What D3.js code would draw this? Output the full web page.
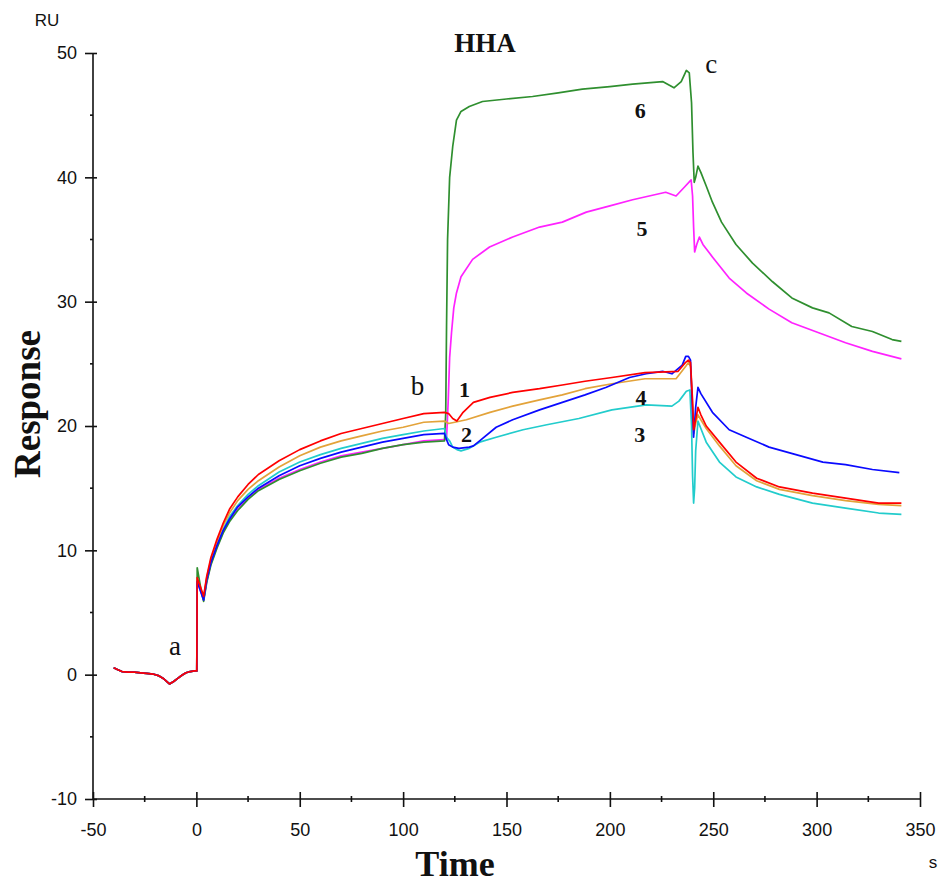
<!DOCTYPE html>
<html>
<head>
<meta charset="utf-8">
<script src="https://cdn.jsdelivr.net/npm/d3@7"></script>
<style>
  html, body { margin: 0; padding: 0; background: #fff; }
  svg { display: block; }
</style>
</head>
<body>
<svg id="chart" width="939" height="885"></svg>
<script>
// ---------- data ----------
const xTicksMajor = [-50, 0, 50, 100, 150, 200, 250, 300, 350];
const xTicksMinor = [-25, 25, 75, 125, 175, 225, 275, 325];
const yTicksMajor = [-10, 0, 10, 20, 30, 40, 50];
const yTicksMinor = [-5, 5, 15, 25, 35, 45];

// shared pre-injection baseline (time s, response RU)
const baseline = [[-40,0.55],[-38,0.4],[-36,0.25],[-33,0.2],[-30,0.2],[-27,0.15],[-24,0.1],[-21,0.05],[-18,-0.1],[-16,-0.3],[-14,-0.6],[-13,-0.75],[-11,-0.55],[-9,-0.3],[-7,-0.05],[-5,0.15],[-3,0.25],[-1,0.3],[0.2,0.3]];

const curve1Red = [[0.4,7.8],[2.5,6.8],[3.5,6.3],[5,7.9],[7,9.4],[10,10.9],[13,12.2],[16,13.3],[20,14.3],[25,15.3],[30,16.1],[40,17.2],[50,18.1],[60,18.8],[70,19.4],[80,19.8],[90,20.2],[100,20.6],[110,21.0],[120,21.1],[122,21.0],[124,20.6],[126,20.4],[129,21.1],[134,21.9],[142,22.3],[153,22.7],[166,23.0],[177,23.3],[188,23.6],[201,23.9],[217,24.3],[227,24.35],[233,24.4],[236.5,25.1],[238,25.3],[239,25.1],[240,22],[240.5,19.7],[241.5,20.5],[242.6,21.5],[244,20.9],[246.6,20.0],[253,18.7],[261,17.1],[271,15.8],[282,15.1],[298,14.6],[314,14.2],[330,13.8],[341,13.8]];

const curve2Orange = [[0.4,7.7],[2.5,6.7],[3.5,6.2],[5,7.8],[7,9.2],[10,10.7],[13,12.0],[16,13.0],[20,14.0],[25,14.9],[30,15.6],[40,16.7],[50,17.6],[60,18.3],[70,18.8],[80,19.2],[90,19.6],[100,19.9],[110,20.3],[120,20.4],[122,20.2],[125,20.3],[130.6,20.5],[142,21.1],[153,21.6],[166,22.1],[177,22.5],[188,23.0],[201,23.4],[217,23.8],[232,23.8],[236.7,24.8],[238,25.1],[239,24.8],[240,21.5],[240.6,19.4],[241.5,20.2],[242.6,20.9],[244,20.5],[246.6,19.8],[253,18.4],[261,16.8],[271,15.6],[282,14.9],[298,14.4],[314,14.0],[330,13.7],[341,13.6]];

const curve3Cyan = [[0.4,7.6],[2.5,6.6],[3.5,6.1],[5,7.7],[7,9.1],[10,10.5],[13,11.7],[16,12.7],[20,13.6],[25,14.5],[30,15.2],[40,16.3],[50,17.1],[60,17.7],[70,18.2],[80,18.6],[90,19.0],[100,19.3],[110,19.6],[120,19.8],[121,19.1],[122.5,18.8],[124,18.3],[126,18.1],[128,18.0],[132,18.2],[137,18.7],[145,19.1],[158,19.7],[169.5,20.1],[185,20.6],[201,21.3],[217.6,21.7],[230,21.6],[233.4,22.0],[237,22.8],[238.7,22.9],[239.5,20],[240,16],[240.5,13.8],[241,15],[241.5,18],[242.6,20.4],[244,19.8],[246.6,18.7],[253,17.1],[261,15.9],[271,15.1],[282,14.5],[298,13.8],[314,13.4],[330,13.0],[341,12.9]];

const curve4Blue = [[0.4,7.5],[2.5,6.5],[3.5,6.0],[5,7.6],[7,9.0],[10,10.4],[13,11.6],[16,12.5],[20,13.5],[25,14.3],[30,15.0],[40,16.0],[50,16.8],[60,17.4],[70,17.9],[80,18.3],[90,18.7],[100,19.0],[110,19.3],[120,19.4],[121,18.9],[122,18.5],[124,18.3],[127,18.2],[132,18.3],[134,18.4],[137,18.8],[145,19.9],[153,20.5],[166,21.3],[177,21.9],[188,22.5],[198,23.1],[209.5,23.9],[217.6,24.2],[225.5,24.4],[230,24.2],[235,24.9],[236.7,25.6],[238,25.6],[239,25.3],[240,21],[240.5,19.1],[241.5,21.5],[242.6,23.1],[244,22.6],[249.6,21.1],[257.7,19.7],[266,19.1],[277,18.3],[290,17.7],[303,17.1],[314,16.9],[327,16.5],[340,16.25]];

const curve5Magenta = [[0.4,7.5],[2.5,6.5],[3.5,6.0],[5,7.5],[7,8.9],[10,10.3],[13,11.5],[16,12.4],[20,13.3],[25,14.2],[30,14.9],[40,15.8],[50,16.5],[60,17.1],[70,17.6],[80,17.9],[90,18.2],[100,18.5],[110,18.8],[120,18.9],[121,19.0],[121.8,22],[122.5,25.5],[123.4,27.5],[124.5,29.5],[125.8,30.7],[128,32.0],[133.6,33.4],[141.8,34.4],[153,35.2],[166,36.0],[177,36.4],[188.6,37.2],[200,37.7],[211,38.2],[227,38.8],[232,38.5],[236,39.2],[239.3,39.8],[240,38.5],[240.5,36],[241,34.0],[242,34.6],[243.3,35.2],[245,34.6],[249.6,33.6],[257.7,31.9],[266,30.7],[277,29.4],[288,28.3],[301,27.5],[314,26.7],[327,26.0],[341,25.4]];

const curve6Green = [[0.4,8.6],[2.5,6.6],[3.5,5.9],[5,7.4],[7,8.8],[10,10.2],[13,11.4],[16,12.3],[20,13.2],[25,14.1],[30,14.8],[40,15.7],[50,16.4],[60,17.0],[70,17.5],[80,17.8],[90,18.2],[100,18.5],[110,18.7],[120,18.8],[120.6,21],[121,28],[121.5,35],[122.5,40],[124,42.5],[125.8,44.6],[128,45.3],[132,45.7],[138.4,46.1],[150,46.3],[162.6,46.5],[175,46.8],[186.7,47.1],[200,47.3],[211,47.5],[225.5,47.7],[231,47.2],[234.5,47.7],[237,48.6],[238.4,48.4],[239.5,46],[240.2,42],[240.8,39.6],[241.5,40.0],[242.6,40.9],[244,40.4],[246.6,39.3],[249.6,38.0],[254,36.4],[261,34.6],[269,33.1],[278.7,31.6],[288,30.3],[298,29.5],[306,29.1],[317,28.0],[327,27.6],[336.5,26.95],[341,26.8]];

const seriesNames = ["1", "2", "3", "4", "5", "6"];
const seriesColors = ["#ff0000", "#e3a33a", "#22cccc", "#0a0aff", "#ff22ff", "#2f8f2f"];
const seriesData = [curve1Red, curve2Orange, curve3Cyan, curve4Blue, curve5Magenta, curve6Green];

const curveLabels = ["1", "2", "3", "4", "5", "6"];
const curveLabelPos = [[129.7, 22.3], [130.7, 18.7], [214.5, 18.7], [215, 21.7], [215.5, 35.3], [214.7, 44.8]];
const phaseLabels = ["a", "b", "c"];
const phaseLabelPos = [[-10.4, 1.6], [107, 22.5], [249, 48.4]];

// ---------- drawing ----------
const svg = d3.select("#chart");
const x = d3.scaleLinear().domain([-50, 350]).range([93, 920]);
const y = d3.scaleLinear().domain([-10, 50]).range([799, 53]);

const ink = "#111";
const sans = "'Liberation Sans', Arial, sans-serif";
const serif = "'Liberation Serif', 'Times New Roman', serif";
const plainFmt = d => String(d);

// axis lines
svg.append("line").attr("x1", x(-50)).attr("x2", x(350)).attr("y1", y(-10)).attr("y2", y(-10))
  .attr("stroke", ink).attr("stroke-width", 1.6);
svg.append("line").attr("x1", x(-50)).attr("x2", x(-50)).attr("y1", y(-10)).attr("y2", y(50))
  .attr("stroke", ink).attr("stroke-width", 1.6);

// x axis (major)
const gx = svg.append("g").attr("transform", `translate(0,${y(-10)})`)
  .call(d3.axisBottom(x).tickValues(xTicksMajor).tickSize(8).tickPadding(16).tickFormat(plainFmt));
gx.select(".domain").remove();
gx.selectAll(".tick line").attr("y1", -7).attr("stroke", ink).attr("stroke-width", 1.6);
gx.selectAll(".tick text").attr("font-family", sans).attr("font-size", 18).attr("fill", ink);
// x axis (minor)
svg.append("g").selectAll("line").data(xTicksMinor).join("line")
  .attr("x1", d => x(d)).attr("x2", d => x(d)).attr("y1", y(-10) - 3).attr("y2", y(-10) + 3)
  .attr("stroke", ink).attr("stroke-width", 1.6);

// y axis (major)
const gy = svg.append("g").attr("transform", `translate(${x(-50)},0)`)
  .call(d3.axisLeft(y).tickValues(yTicksMajor).tickSize(8).tickPadding(8).tickFormat(plainFmt));
gy.select(".domain").remove();
gy.selectAll(".tick line").attr("x1", 4).attr("stroke", ink).attr("stroke-width", 1.6);
gy.selectAll(".tick text").attr("font-family", sans).attr("font-size", 18).attr("fill", ink);
// y axis (minor)
svg.append("g").selectAll("line").data(yTicksMinor).join("line")
  .attr("x1", x(-50) - 3).attr("x2", x(-50)).attr("y1", d => y(d)).attr("y2", d => y(d))
  .attr("stroke", ink).attr("stroke-width", 1.6);

// curves
const line = d3.line().x(d => x(d[0])).y(d => y(d[1])).curve(d3.curveLinear);
const drawOrder = [4, 5, 2, 1, 3, 0];
svg.append("g").selectAll("path").data(drawOrder).join("path")
  .attr("d", i => line(baseline.concat(seriesData[i])))
  .attr("fill", "none")
  .attr("stroke", i => seriesColors[i])
  .attr("stroke-width", 1.7)
  .attr("stroke-linejoin", "round");

// curve number labels
svg.append("g").selectAll("text").data(curveLabels).join("text")
  .attr("x", (d, i) => x(curveLabelPos[i][0]))
  .attr("y", (d, i) => y(curveLabelPos[i][1]))
  .attr("text-anchor", "middle")
  .attr("font-family", serif).attr("font-weight", "bold").attr("font-size", 22).attr("fill", ink)
  .text(d => d);

// phase letters
svg.append("g").selectAll("text").data(phaseLabels).join("text")
  .attr("x", (d, i) => x(phaseLabelPos[i][0]))
  .attr("y", (d, i) => y(phaseLabelPos[i][1]))
  .attr("text-anchor", "middle")
  .attr("font-family", serif).attr("font-size", 27).attr("fill", ink)
  .text(d => d);

// titles
svg.append("text").attr("x", 485).attr("y", 52).attr("text-anchor", "middle")
  .attr("font-family", serif).attr("font-weight", "bold").attr("font-size", 27).attr("fill", ink)
  .text("HHA");
svg.append("text").attr("x", 455).attr("y", 876).attr("text-anchor", "middle")
  .attr("font-family", serif).attr("font-weight", "bold").attr("font-size", 36).attr("fill", ink)
  .text("Time");
svg.append("text").attr("transform", "translate(40,404) rotate(-90)").attr("text-anchor", "middle")
  .attr("font-family", serif).attr("font-weight", "bold").attr("font-size", 37).attr("fill", ink)
  .text("Response");
svg.append("text").attr("x", 47).attr("y", 26).attr("text-anchor", "middle")
  .attr("font-family", sans).attr("font-size", 17).attr("fill", ink).text("RU");
svg.append("text").attr("x", 933).attr("y", 868).attr("text-anchor", "middle")
  .attr("font-family", sans).attr("font-size", 17).attr("fill", ink).text("s");
</script>
</body>
</html>
